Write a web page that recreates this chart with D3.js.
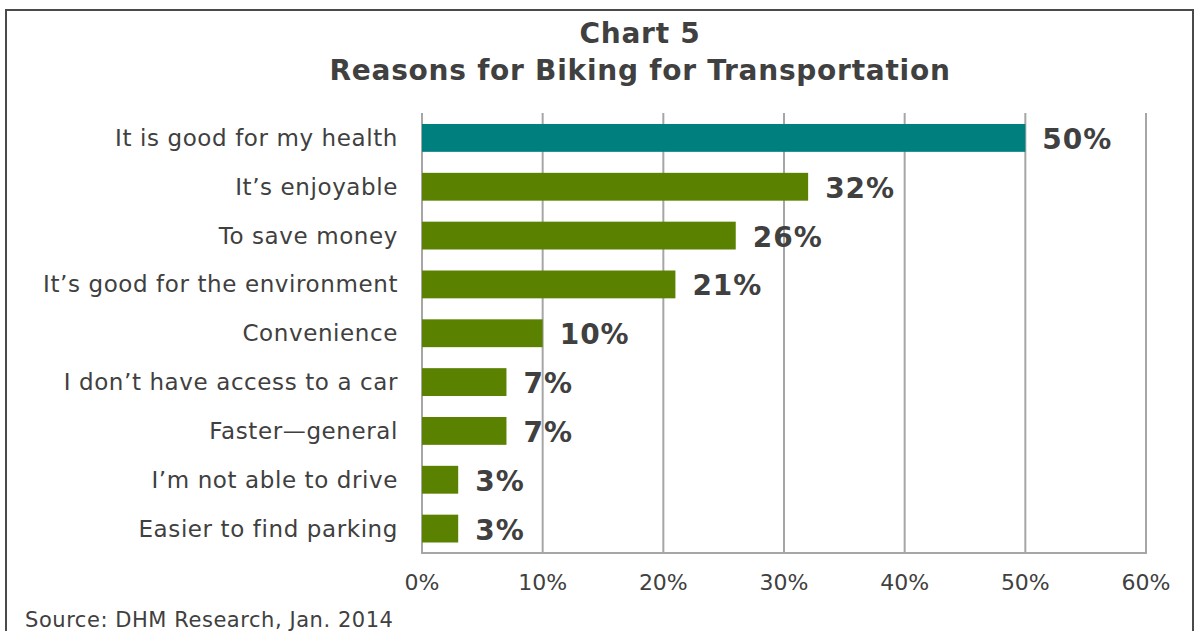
<!DOCTYPE html>
<html>
<head>
  <script src="https://d3js.org/d3.v7.min.js"></script>
  <style>
    body { margin: 0; background: #fff; }
    text { font-family: "DejaVu Sans", Verdana, sans-serif; fill: #404040; }
  </style>
</head>
<body>
<div id="chart"></div>
<script>
  var categories = [
    "It is good for my health",
    "It\u2019s enjoyable",
    "To save money",
    "It\u2019s good for the environment",
    "Convenience",
    "I don\u2019t have access to a car",
    "Faster\u2014general",
    "I\u2019m not able to drive",
    "Easier to find parking"
  ];
  var values = [50, 32, 26, 21, 10, 7, 7, 3, 3];
  var ticks = [0, 10, 20, 30, 40, 50, 60];
  var titleLines = ["Chart 5", "Reasons for Biking for Transportation"];
  var source = "Source: DHM Research, Jan. 2014";

  var W = 1194, H = 631;
  var svg = d3.select('#chart').append('svg')
      .attr('width', W)
      .attr('height', H);

  // frame
  svg.append('rect')
      .attr('x', 6).attr('y', 10)
      .attr('width', 1187).attr('height', 700)
      .attr('fill', 'none')
      .attr('stroke', '#4a4a4a')
      .attr('stroke-width', 2);

  var x = d3.scaleLinear().domain([0, 60]).range([422, 1146]);
  var y = d3.scaleBand().domain(categories).range([113.5, 553]).paddingInner(0.43).paddingOuter(0.215);

  // gridlines
  svg.selectAll('line.grid').data(ticks)
    .enter().append('line')
      .attr('class', 'grid')
      .attr('x1', function(d) { return x(d); })
      .attr('x2', function(d) { return x(d); })
      .attr('y1', 113)
      .attr('y2', 553)
      .attr('stroke', '#a6a6a6')
      .attr('stroke-width', 2);

  svg.append('line')
      .attr('x1', x(0) - 1).attr('x2', x(60) + 1)
      .attr('y1', 553).attr('y2', 553)
      .attr('stroke', '#a6a6a6')
      .attr('stroke-width', 2);

  // bars
  svg.selectAll('rect.bar').data(values)
    .enter().append('rect')
      .attr('class', 'bar')
      .attr('x', x(0))
      .attr('y', function(d, i) { return y(categories[i]); })
      .attr('width', function(d) { return x(d) - x(0); })
      .attr('height', y.bandwidth())
      .attr('fill', function(d, i) { return i === 0 ? '#007f7f' : '#5a8200'; });

  // value labels
  svg.selectAll('text.val').data(values)
    .enter().append('text')
      .attr('class', 'val')
      .attr('x', function(d) { return x(d) + 17; })
      .attr('y', function(d, i) { return y(categories[i]) + y.bandwidth() / 2 + 11; })
      .attr('font-size', 28)
      .attr('font-weight', 'bold')
      .attr('letter-spacing', 1)
      .text(function(d) { return d + '%'; });

  // category labels
  svg.selectAll('text.cat').data(categories)
    .enter().append('text')
      .attr('class', 'cat')
      .attr('x', 398)
      .attr('y', function(d) { return y(d) + y.bandwidth() / 2 + 8; })
      .attr('text-anchor', 'end')
      .attr('font-size', 23)
      .attr('letter-spacing', 0.6)
      .text(function(d) { return d; });

  // x tick labels
  svg.selectAll('text.tick').data(ticks)
    .enter().append('text')
      .attr('class', 'tick')
      .attr('x', function(d) { return x(d); })
      .attr('y', 590)
      .attr('text-anchor', 'middle')
      .attr('font-size', 22)
      .text(function(d) { return d + '%'; });

  // title
  svg.selectAll('text.title').data(titleLines)
    .enter().append('text')
      .attr('class', 'title')
      .attr('x', 640)
      .attr('y', function(d, i) { return 43 + i * 37; })
      .attr('text-anchor', 'middle')
      .attr('font-size', 28)
      .attr('font-weight', 'bold')
      .attr('letter-spacing', 0.75)
      .text(function(d) { return d; });

  svg.append('text')
      .attr('x', 25)
      .attr('y', 627)
      .attr('font-size', 21)
      .attr('letter-spacing', 0.55)
      .text(source);
</script>
</body>
</html>
